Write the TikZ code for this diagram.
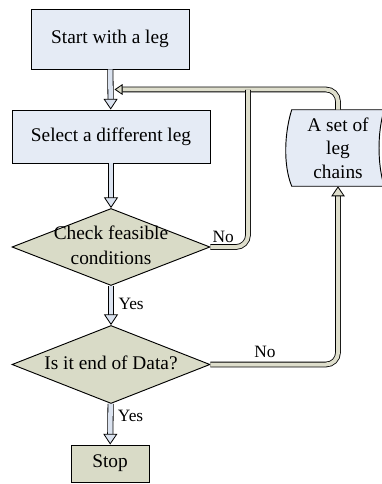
\documentclass[tikz,border=0pt]{standalone}
\usepackage{fontspec}
\setmainfont{Liberation Serif}
\usetikzlibrary{shapes.geometric,arrows.meta,calc}
\definecolor{boxblue}{rgb}{0.90,0.92,0.96}
\definecolor{khaki}{rgb}{0.85,0.86,0.78}
\definecolor{pipeblue}{rgb}{0.86,0.89,0.94}
\definecolor{pipekhaki}{rgb}{0.87,0.87,0.80}
\tikzset{>=latex,
  task/.style={draw, line width=0.7pt, fill=boxblue, inner sep=0pt},
  test/.style={diamond, draw, line width=0.7pt, fill=khaki, inner sep=0pt,
    minimum width=148.5pt},
  pipe/.style={draw, line width=0.6pt, double=pipeblue, double distance=3.4pt,
    -{Triangle[open, fill=pipeblue, length=8pt, width=10.5pt]}},
  loop/.style={draw, line width=0.6pt, double=pipekhaki, double distance=3pt,
    rounded corners=9pt},
  tag/.style={font=\fontsize{13}{15}\selectfont},
  flow chart/.style={
    x=0.75pt,
    y=-0.75pt,
    font={\fontsize{14.5}{17.5}\selectfont},
  },
}
% text that takes no room inside a shape
\newcommand{\slimtext}[1]{\raisebox{-0.6ex}[0pt][0pt]{\makebox[0pt]{\begin{tabular}{@{}c@{}}#1\end{tabular}}}}

\begin{document}
\begin{tikzpicture}[flow chart]
    \useasboundingbox (0,0) rectangle (381,484);

    \node [task,minimum width=118.5pt,minimum height=45pt] (start) at (110,39) {Start with a leg};
    \node [task,minimum width=148.5pt,minimum height=39.75pt] (select) at (111,136.5) {Select a different leg};
    \node [test,minimum height=57.75pt] (check) at (111,247) {\slimtext{Check feasible\\[1pt]conditions}};
    \node [test,minimum height=58.5pt] (data) at (111,364.5) {\slimtext{Is it end of Data?}};
    \node [task,fill=khaki,minimum width=58.5pt,minimum height=27.75pt] (stop) at (110,463.5) {Stop};

    \node [minimum width=69pt,minimum height=57pt,inner sep=0pt] (chains) at (338,148) {};
    \draw [line width=0.7pt,fill=boxblue] (chains.north west)
      .. controls +(-7,22) and +(-9,-22) .. (chains.south west)
      -- (chains.south east)
      .. controls +(-7,-22) and +(-7,22) .. (chains.north east) -- cycle;
    \node [align=center,inner sep=0pt] (chainstext) at (chains) {A set of\\leg\\chains};

    \coordinate (merge) at ($(start.south)!0.5!(select.north)+(4,0)$);
    \coordinate (bend) at (248,90);

    % return paths
    \draw [loop,-{Triangle[open, fill=pipekhaki, length=6pt, width=8pt]}]
      (chains.north) |- (merge);
    \draw [loop] (check.east) -| (bend);
    \draw [loop,-{Triangle[open, fill=pipekhaki, length=7.5pt, width=10pt]}]
      (data.east) -| (chains.south);

    % main flow
    \draw [pipe] (start) -- (select);
    \draw [pipe] (select) -- (check);
    \draw [pipe] (check) -- node [tag,right,xshift=2pt,pos=0.45] {Yes} (data);
    \draw [pipe] (data) -- node [tag,right,xshift=2pt,pos=0.3] {Yes} (stop);

    \node [tag,above right,xshift=-2pt] (nocheck) at (check.east) {No};
    \node [tag] (nodata) at (265,352) {No};
\end{tikzpicture}
\end{document}
